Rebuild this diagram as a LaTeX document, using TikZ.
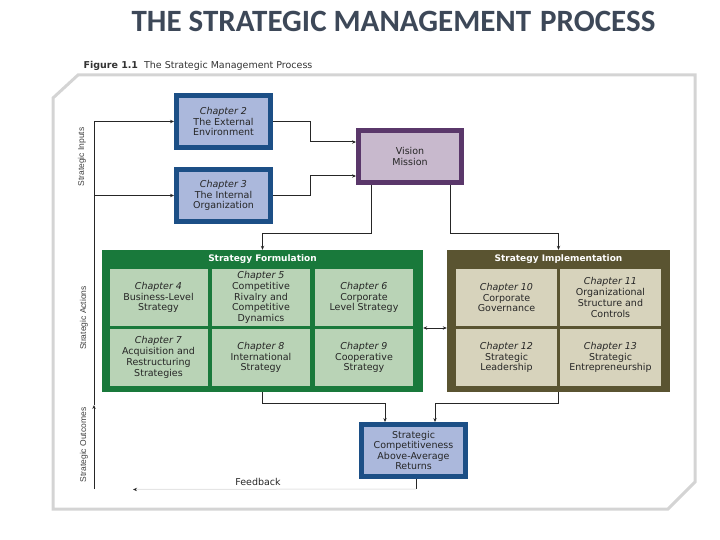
\documentclass[tikz,border=0pt]{standalone}
\usepackage{fontspec}
\setmainfont{DejaVu Sans}
\newfontfamily\headfont{Carlito}
\newfontfamily\sidefont{Liberation Sans}
\usetikzlibrary{arrows.meta}

\definecolor{chapblue}{HTML}{1C4F86}
\definecolor{chapfill}{HTML}{ABB8DC}
\definecolor{vispurple}{HTML}{5A376A}
\definecolor{visfill}{HTML}{C8B9CD}
\definecolor{formgreen}{HTML}{19793B}
\definecolor{formcell}{HTML}{B9D3B6}
\definecolor{implolive}{HTML}{5A5431}
\definecolor{implcell}{HTML}{D7D3BC}
\definecolor{titlegray}{HTML}{3D4858}

\begin{document}
\begin{tikzpicture}[
  x=1pt,y=-1pt,
  >={Stealth[length=4pt,width=3.4pt]},
  link/.style={->,black!85,line width=1pt},
  wire/.style={black!85,line width=1pt},
  chap/.style={draw=chapblue,fill=chapfill,line width=5pt,minimum width=94pt,minimum height=52pt,inner sep=1pt,align=center,font=\fontsize{9.5}{10.2}\selectfont,text=black!85},
  cell/.style={minimum width=98pt,minimum height=57pt,inner sep=1pt,align=center,font=\fontsize{9.5}{10.8}\selectfont,text=black!85},
  block/.style={minimum width=#1,minimum height=142pt,inner sep=0pt},
  head/.style={text=white,font=\bfseries\fontsize{9}{10}\selectfont},
  side/.style={rotate=90,text=black!75,font=\sidefont\fontsize{8.5}{9}\selectfont}
]
  \useasboundingbox (0,0) rectangle (720,540);
  \draw[black!17,line width=3pt] (53,98) -- (78,75) -- (695,75) -- (695,482) -- (668,509) -- (53,509) -- cycle;

  \node[font=\headfont\bfseries\fontsize{31}{31}\selectfont,text=titlegray,anchor=base] (title) at (393.5,32) {THE STRATEGIC MANAGEMENT\hspace{9pt}PROCESS};
  \node[anchor=base west,font=\fontsize{9.5}{10}\selectfont,text=black!80] (fig) at (80,69) {\textbf{Figure 1.1}\hspace{6pt}The Strategic Management Process};

  % inputs
  \node[chap] (ch2) at (223.5,121.5) {\textit{Chapter 2}\\The External\\Environment};
  \node[chap] (ch3) at (223.5,195.5) {\textit{Chapter 3}\\The Internal\\Organization};
  \node[chap,draw=vispurple,fill=visfill,minimum width=103pt] (vis) at (410,156.5) {Vision\\Mission};

  % actions
  \node[block=321pt,fill=formgreen] (form) at (262.5,321) {};
  \node[block=223pt,fill=implolive] (impl) at (558.5,321) {};
  \node[head] (formhd) at (262.5,259.5) {Strategy Formulation};
  \node[head] (implhd) at (558.5,259.5) {Strategy Implementation};

  \foreach \n/\x/\y/\txt in {4/158.5/297.5/Business-Level\\Strategy,
      5/261/297.5/Competitive\\Rivalry and\\Competitive\\Dynamics,
      6/364/297.5/Corporate\\Level Strategy,
      7/158.5/357.5/Acquisition and\\Restructuring\\Strategies,
      8/261/357.5/International\\Strategy,
      9/364/357.5/Cooperative\\Strategy}
    \node[cell,fill=formcell] (c\n) at (\x,\y) {\textit{Chapter \n}\\\txt};
  \foreach \n/\x/\y/\txt in {10/506.5/297.5/Corporate\\Governance,
      11/610.5/297.5/Organizational\\Structure and\\Controls,
      12/506.5/357.5/Strategic\\Leadership,
      13/610.5/357.5/Strategic\\Entrepreneurship}
    \node[cell,fill=implcell,minimum width=101pt] (c\n) at (\x,\y) {\textit{Chapter \n}\\\txt};

  % outcomes
  \node[chap,minimum width=104pt] (outc) at (413.5,450.5) {Strategic\\Competitiveness\\Above-Average\\Returns};
  \node[font=\fontsize{9.5}{10}\selectfont,text=black!85] (fb) at (258,482) {Feedback};

  \node[side] (sin) at (82,157) {Strategic Inputs};
  \node[side] (sact) at (84,318) {Strategic Actions};
  \node[side] (sout) at (84,445) {Strategic Outcomes};

  % connectors
  \coordinate (rail) at (94,489);
  \coordinate (railmid) at (94,405);
  \coordinate (fbtip) at (133,489.5);
  \draw[link] (rail) -- (railmid);
  \draw[link] (railmid) |- (ch2.west);
  \draw[link] (railmid |- ch3.west) -- (ch3.west);
  \draw[link] (ch2.east) -- ++(37,0) |- ([yshift=14.5pt]vis.west);
  \draw[link] (ch3.east) -- ++(37,0) |- ([yshift=-19.5pt]vis.west);
  \draw[link] ([xshift=-39pt]vis.south) -- ++(0,48) -| (form.north);
  \draw[link] ([xshift=40pt]vis.south) -- ++(0,48) -| (impl.north);
  \draw[<->,black!85,line width=1pt] ([yshift=-7pt]form.east) -- ([yshift=-7pt]impl.west);
  \draw[link] (form.south) -- ++(0,11) -| ([xshift=-28.5pt]outc.north);
  \draw[link] (impl.south) -- ++(0,11) -| ([xshift=21.5pt]outc.north);
  \draw[wire] ([xshift=2.5pt]outc.south) -- ++(0,10) coordinate (fbend);
  \draw[black!10,line width=1pt,-{Stealth[length=4pt,width=3.4pt,black!85]}] (fbend) -- (fbtip);
\end{tikzpicture}
\end{document}
